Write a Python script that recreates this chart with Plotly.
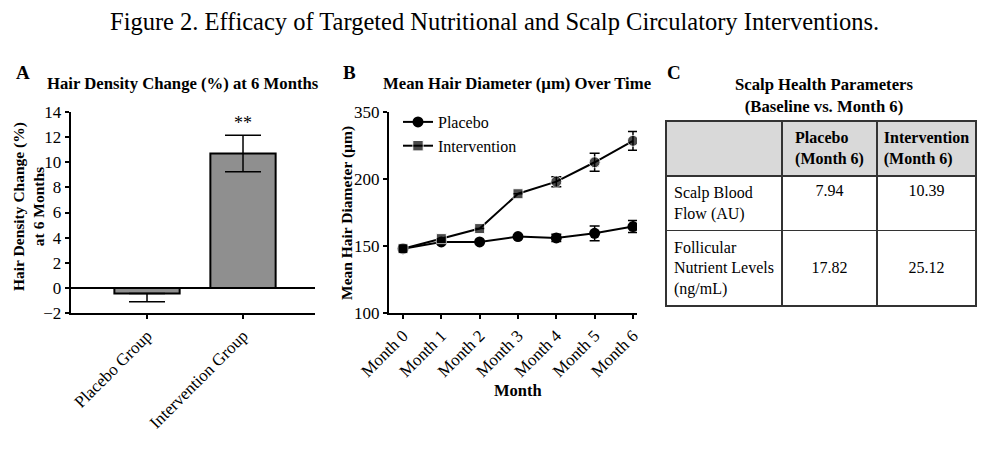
import plotly.graph_objects as go

W, H = 989, 457
OFF = 8  # default page body margin
FONT = "Liberation Serif"


def fx(p):
    return (p - OFF) / W


def fy(p):
    return 1 - (p - OFF) / H


# ---------------- data ----------------
groups_a = ["Placebo Group", "Intervention Group"]
density_change = [-0.45, 10.7]
density_err_up = [0.0, 1.45]
density_err_down = [0.65, 1.45]
a_tick_vals = [-2, 0, 2, 4, 6, 8, 10, 12, 14]

months = ["Month 0", "Month 1", "Month 2", "Month 3", "Month 4", "Month 5", "Month 6"]
placebo_diam = [148, 153, 153, 157, 156, 159.5, 164.5]
placebo_err = [0, 0, 0, 0, 2.7, 5.5, 4.5]
interv_diam = [148, 155.5, 163, 189, 198, 212.5, 228.5]
interv_err = [0, 0, 0, 0, 3.7, 6.8, 7.0]
b_tick_vals = [100, 150, 200, 250]
b_tick_text = ["100", "150", "200", "350"]

table_header = ["", "Placebo<br>(Month 6)", "Intervention<br>(Month 6)"]
table_params = ["Scalp Blood<br>Flow (AU)", "Follicular<br>Nutrient Levels<br>(ng/mL)"]
table_placebo = ["7.94", "17.82"]
table_interv = ["10.39", "25.12"]

# ---------------- figure ----------------
fig = go.Figure()

# Panel A bars
fig.add_trace(go.Bar(
    x=groups_a, y=density_change, width=0.68,
    marker=dict(color="#8f8f8f", line=dict(color="black", width=2)),
    error_y=dict(type="data", symmetric=False, array=density_err_up,
                 arrayminus=density_err_down, color="black", thickness=1.5, width=18),
    xaxis="x", yaxis="y", showlegend=False,
))

# Panel B lines
x_idx = list(range(len(months)))
fig.add_trace(go.Scatter(
    x=x_idx, y=placebo_diam, name="Placebo", mode="lines+markers",
    line=dict(color="black", width=2),
    marker=dict(symbol="circle", size=11, color="black"),
    error_y=dict(type="data", array=placebo_err, color="black", thickness=1.5, width=5),
    xaxis="x2", yaxis="y2",
))
interv_symbols = ["square" if i < 4 else "circle" for i in x_idx]
fig.add_trace(go.Scatter(
    x=x_idx, y=interv_diam, name="Intervention", mode="lines+markers",
    line=dict(color="black", width=2),
    marker=dict(symbol=interv_symbols, size=[10, 10, 10, 10, 11, 11, 11], color="black"),
    error_y=dict(type="data", array=interv_err, color="black", thickness=1.5, width=5),
    xaxis="x2", yaxis="y2",
))

# Panel C table
n_lines = [p.count("<br>") + 1 for p in table_params]
pad = ["\u00a0<br>" * ((n - 1) // 2) for n in n_lines]
fig.add_trace(go.Table(
    domain=dict(x=[fx(666), fx(976)], y=[0, fy(121)]),
    columnwidth=[116, 95, 99],
    header=dict(
        values=["<b>" + h + "</b>" if h else "" for h in table_header],
        fill_color="#d9d9d9", align="center",
        line=dict(color="#333333", width=1.5),
        font=dict(family=FONT, size=16, color="black"), height=49,
    ),
    cells=dict(
        values=[table_params,
                [p + v for p, v in zip(pad, table_placebo)],
                [p + v for p, v in zip(pad, table_interv)]],
        fill_color="white", align=["left", "center", "center"],
        line=dict(color="#333333", width=1.5),
        font=dict(family=FONT, size=16, color="black"), height=49,
    ),
))

axis_common = dict(showgrid=False, showline=True, linecolor="black", linewidth=2,
                   ticks="outside", ticklen=4, tickwidth=2, tickcolor="black",
                   automargin=False, fixedrange=True,
                   tickfont=dict(family=FONT, size=17, color="black"))

fig.update_layout(
    width=W, height=H,
    margin=dict(l=0, r=0, t=0, b=0),
    paper_bgcolor="white", plot_bgcolor="white",
    font=dict(family=FONT, color="black"),
    xaxis=dict(domain=[fx(70.7), fx(315)], type="category", range=[-0.795, 1.75],
               tickangle=-45, anchor="y", **axis_common),
    yaxis=dict(domain=[fy(313), fy(112)], range=[-2, 14], tickvals=a_tick_vals,
               zeroline=True, zerolinecolor="black", zerolinewidth=2,
               anchor="x", **axis_common),
    xaxis2=dict(domain=[fx(389), fx(637)], range=[-0.365, 6.105],
                tickvals=x_idx, ticktext=months, tickangle=-45, anchor="y2",
                zeroline=False, **axis_common),
    yaxis2=dict(domain=[fy(313), fy(112)], range=[100, 250], tickvals=b_tick_vals,
                ticktext=b_tick_text, zeroline=False, anchor="x2", **axis_common),
    legend=dict(x=fx(398), y=fy(105), xanchor="left", yanchor="top",
                bgcolor="rgba(0,0,0,0)", font=dict(family=FONT, size=16, color="black"),
                tracegroupgap=0, itemwidth=30),
)

ann = []


def add_text(text, x, y, size, bold=False, xanchor="center", angle=0):
    ann.append(dict(
        text=("<b>" + text + "</b>") if bold else text,
        x=fx(x), y=fy(y), xref="paper", yref="paper",
        xanchor=xanchor, yanchor="middle",
        showarrow=False, textangle=angle,
        font=dict(family=FONT, size=size, color="black"),
    ))


add_text("Figure 2. Efficacy of Targeted Nutritional and Scalp Circulatory Interventions.", 494, 22, 24.5)
add_text("A", 14, 72, 19, bold=True, xanchor="left")
add_text("B", 341, 72, 19, bold=True, xanchor="left")
add_text("C", 665, 72, 19, bold=True, xanchor="left")
add_text("Hair Density Change (%) at 6 Months", 183, 84, 16.7, bold=True)
add_text("Mean Hair Diameter (µm) Over Time", 517, 84, 16.7, bold=True)
add_text("Scalp Health Parameters<br>(Baseline vs. Month 6)", 824, 95, 16.7, bold=True)
add_text("Hair Density Change (%)<br>at 6 Months", 28, 207, 15.5, bold=True, angle=-90)
add_text("Mean Hair Diameter (µm)", 347, 213, 15.5, bold=True, angle=-90)
add_text("Month", 518, 390, 16.5, bold=True)
ann.append(dict(text="**", x=groups_a[1], y=13.1, xref="x", yref="y",
                showarrow=False, yanchor="middle",
                font=dict(family=FONT, size=18, color="black")))

fig.update_layout(annotations=ann)

fig.write_html("out.html")
